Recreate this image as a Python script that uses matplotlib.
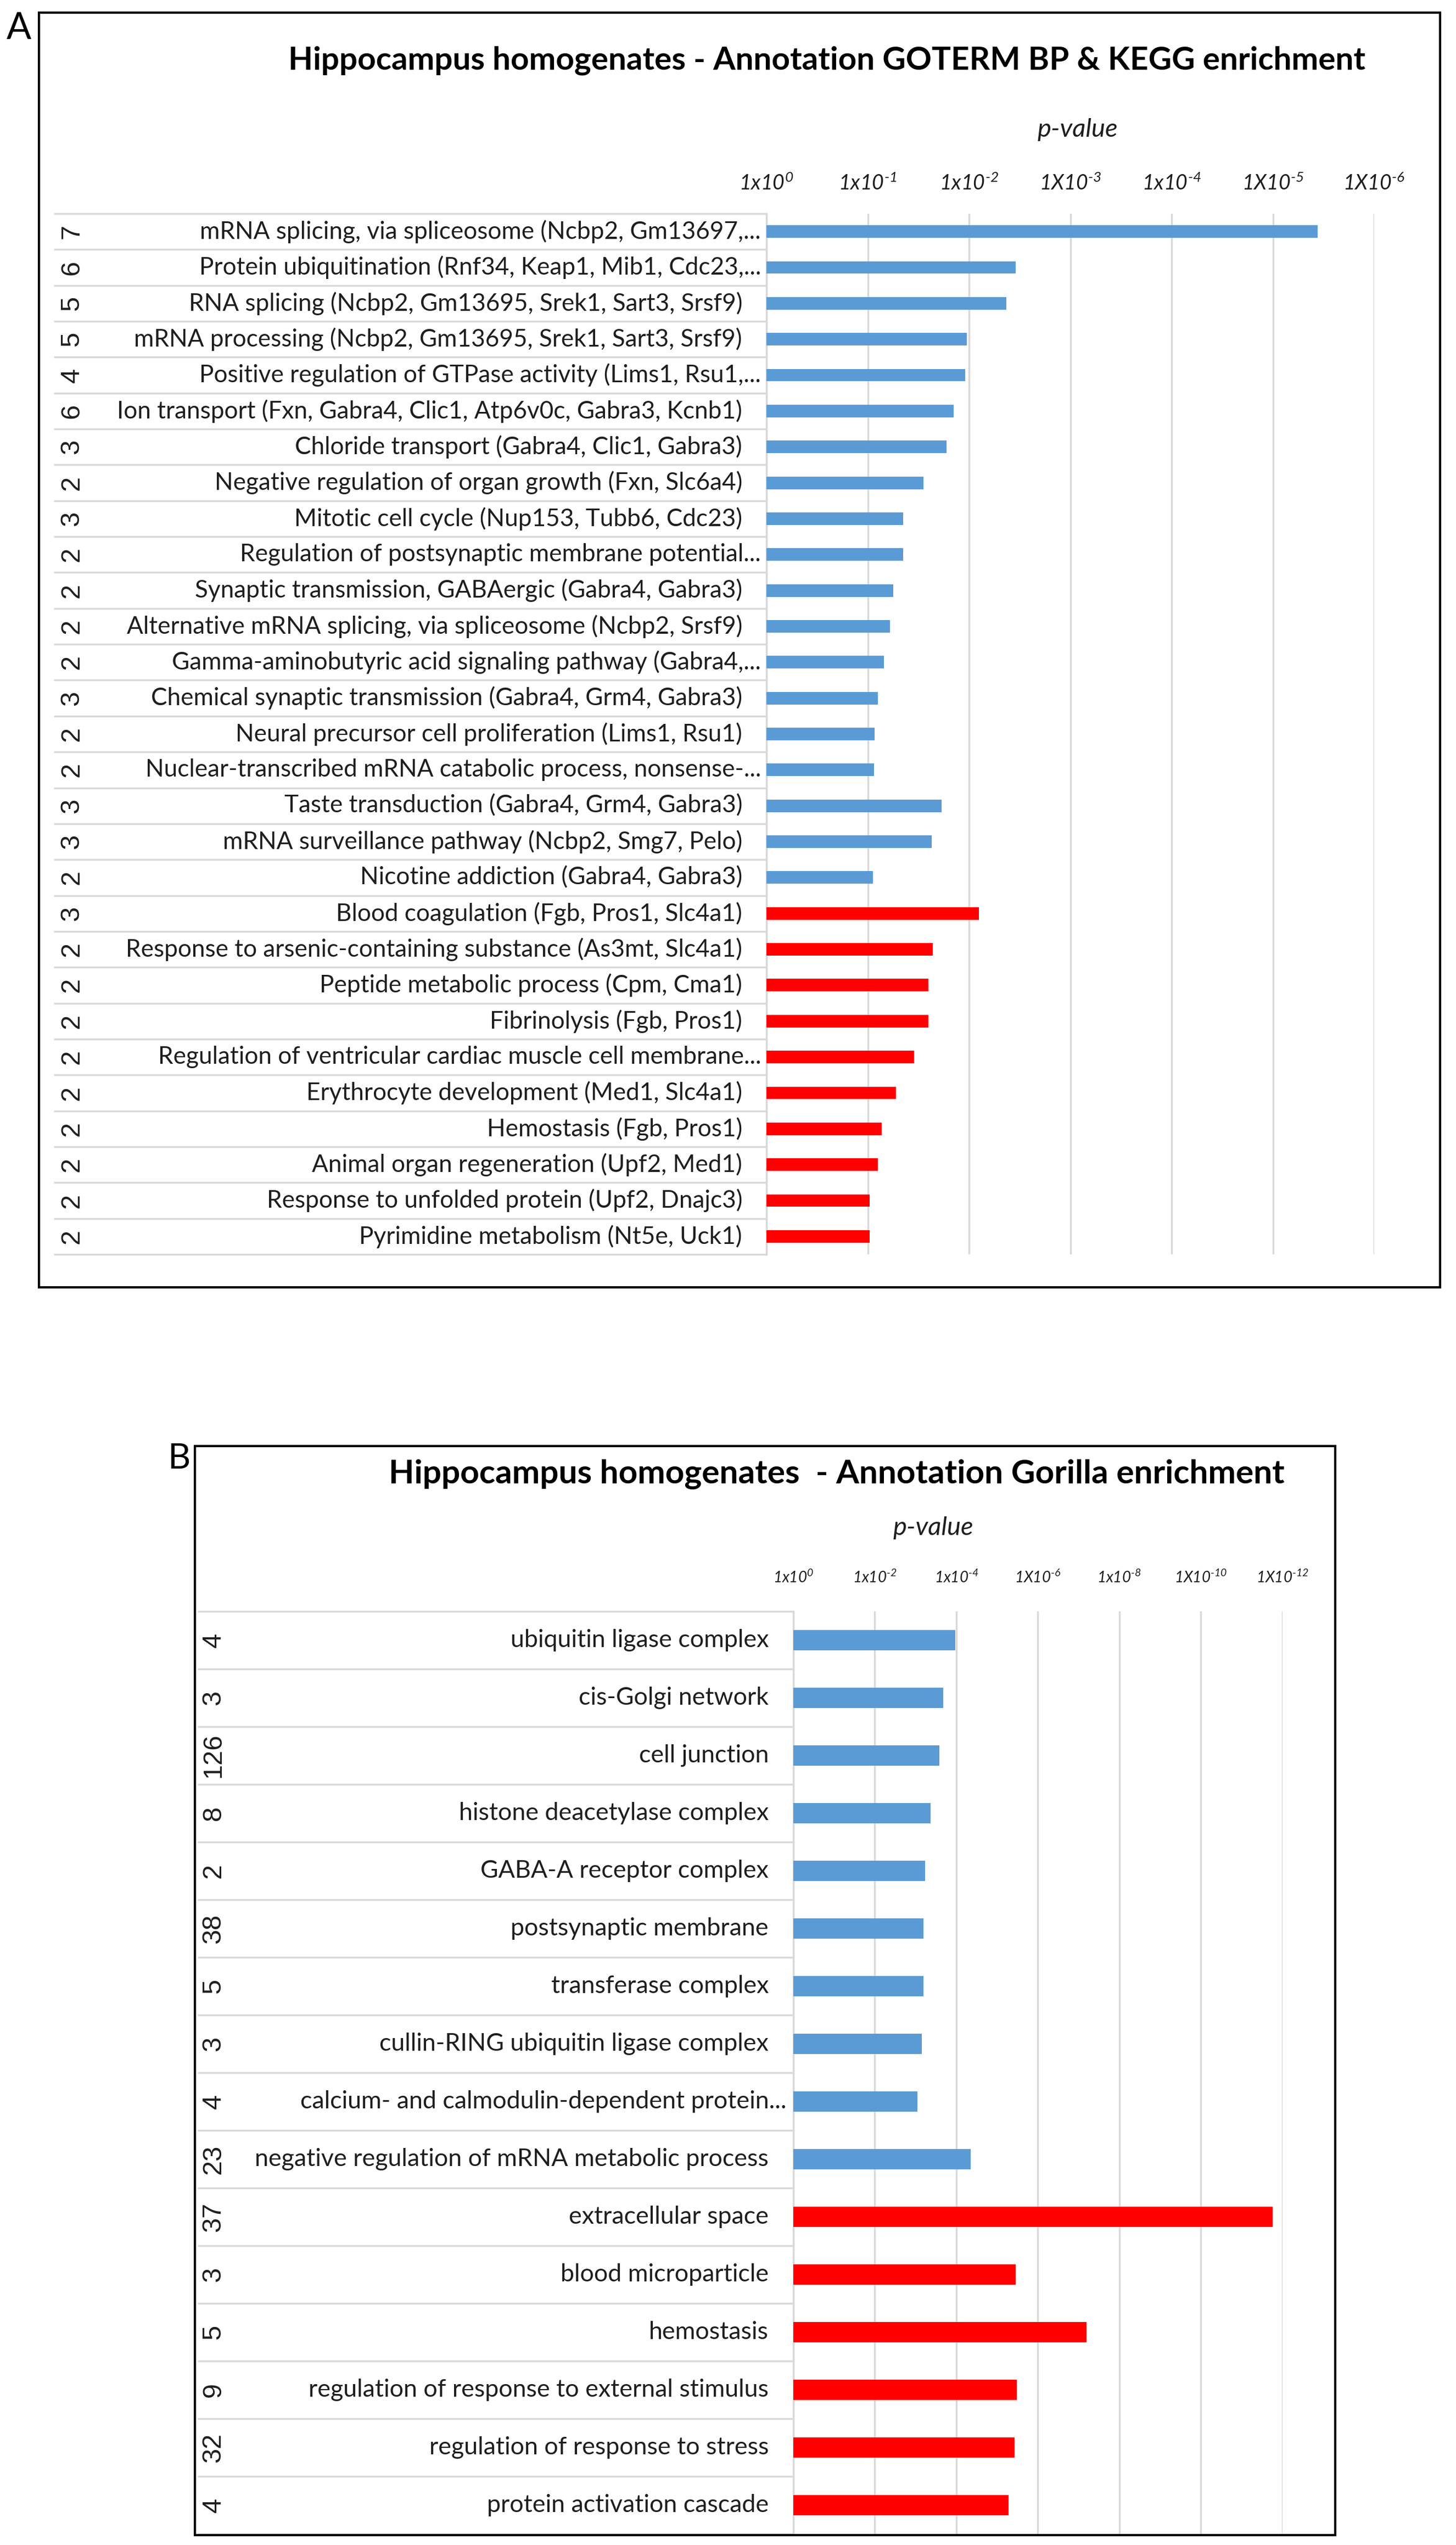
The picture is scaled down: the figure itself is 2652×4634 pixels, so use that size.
import numpy as np
import matplotlib
matplotlib.use('Agg')
import matplotlib.pyplot as plt
from matplotlib.patches import Rectangle
from matplotlib.transforms import blended_transform_factory

plt.rcParams['font.family'] = ['Lato', 'DejaVu Sans']
plt.rcParams['font.style'] = 'normal'
plt.rcParams['mathtext.fontset'] = 'custom'
plt.rcParams['mathtext.rm'] = 'Lato:italic'
plt.rcParams['mathtext.it'] = 'Lato:italic'
plt.rcParams['mathtext.bf'] = 'Lato:bold:italic'

# ---- Panel A data: GOTERM BP & KEGG (values are -log10 p-value) ----
a_counts = [7, 6, 5, 5, 4, 6, 3, 2, 3, 2, 2, 2, 2, 3, 2, 2, 3, 3, 2,
            3, 2, 2, 2, 2, 2, 2, 2, 2, 2]
a_terms = [
    "mRNA splicing, via spliceosome (Ncbp2, Gm13697,...",
    "Protein ubiquitination (Rnf34, Keap1, Mib1, Cdc23,...",
    "RNA splicing (Ncbp2, Gm13695, Srek1, Sart3, Srsf9)",
    "mRNA processing (Ncbp2, Gm13695, Srek1, Sart3, Srsf9)",
    "Positive regulation of GTPase activity (Lims1, Rsu1,...",
    "Ion transport (Fxn, Gabra4, Clic1, Atp6v0c, Gabra3, Kcnb1)",
    "Chloride transport (Gabra4, Clic1, Gabra3)",
    "Negative regulation of organ growth (Fxn, Slc6a4)",
    "Mitotic cell cycle (Nup153, Tubb6, Cdc23)",
    "Regulation of postsynaptic membrane potential...",
    "Synaptic transmission, GABAergic (Gabra4, Gabra3)",
    "Alternative mRNA splicing, via spliceosome (Ncbp2, Srsf9)",
    "Gamma-aminobutyric acid signaling pathway (Gabra4,...",
    "Chemical synaptic transmission (Gabra4, Grm4, Gabra3)",
    "Neural precursor cell proliferation (Lims1, Rsu1)",
    "Nuclear-transcribed mRNA catabolic process, nonsense-...",
    "Taste transduction (Gabra4, Grm4, Gabra3)",
    "mRNA surveillance pathway (Ncbp2, Smg7, Pelo)",
    "Nicotine addiction (Gabra4, Gabra3)",
    "Blood coagulation (Fgb, Pros1, Slc4a1)",
    "Response to arsenic-containing substance (As3mt, Slc4a1)",
    "Peptide metabolic process (Cpm, Cma1)",
    "Fibrinolysis (Fgb, Pros1)",
    "Regulation of ventricular cardiac muscle cell membrane...",
    "Erythrocyte development (Med1, Slc4a1)",
    "Hemostasis (Fgb, Pros1)",
    "Animal organ regeneration (Upf2, Med1)",
    "Response to unfolded protein (Upf2, Dnajc3)",
    "Pyrimidine metabolism (Nt5e, Uck1)",
]
a_neglogp = [5.44, 2.46, 2.37, 1.98, 1.96, 1.85, 1.78, 1.55, 1.35, 1.35,
             1.25, 1.22, 1.16, 1.10, 1.07, 1.06, 1.73, 1.63, 1.05,
             2.10, 1.64, 1.60, 1.60, 1.46, 1.28, 1.14, 1.10, 1.02, 1.02]
a_group = ['up'] * 19 + ['down'] * 10
a_ticklabels = [r'$1x10^{0}$', r'$1x10^{\text{-}1}$', r'$1x10^{\text{-}2}$',
                r'$1X10^{\text{-}3}$', r'$1x10^{\text{-}4}$', r'$1X10^{\text{-}5}$',
                r'$1X10^{\text{-}6}$']

# ---- Panel B data: Gorilla ----
b_counts = [4, 3, 126, 8, 2, 38, 5, 3, 4, 23, 37, 3, 5, 9, 32, 4]
b_terms = [
    "ubiquitin ligase complex",
    "cis-Golgi network",
    "cell junction",
    "histone deacetylase complex",
    "GABA-A receptor complex",
    "postsynaptic membrane",
    "transferase complex",
    "cullin-RING ubiquitin ligase complex",
    "calcium- and calmodulin-dependent protein...",
    "negative regulation of mRNA metabolic process",
    "extracellular space",
    "blood microparticle",
    "hemostasis",
    "regulation of response to external stimulus",
    "regulation of response to stress",
    "protein activation cascade",
]
b_neglogp = [3.97, 3.68, 3.58, 3.37, 3.23, 3.19, 3.19, 3.16, 3.05, 4.35,
             11.77, 5.46, 7.20, 5.49, 5.43, 5.28]
b_group = ['up'] * 10 + ['down'] * 6
b_ticklabels = [r'$1x10^{0}$', r'$1x10^{\text{-}2}$', r'$1x10^{\text{-}4}$',
                r'$1X10^{\text{-}6}$', r'$1x10^{\text{-}8}$', r'$1X10^{\text{-}10}$',
                r'$1X10^{\text{-}12}$']

colors = {'up': '#5B9BD5', 'down': '#FF0000'}
W, H = 2652, 4634
GRID = '#D9D9D9'
TXT = '#1e1e1e'

fig = plt.figure(figsize=(W / 100, H / 100), dpi=100)


def fx(px):
    return px / W


def fy(py):
    return 1 - py / H


def panel(box, xmax, tickstep, counts, terms, vals, groups, ticklabels,
          line_x0, num_x, txt_r, trunc_r, label_fs, tick_fs, tick_pad):
    x0, y0, x1, y1 = box
    ax = fig.add_axes([fx(x0), fy(y1), (x1 - x0) / W, (y1 - y0) / H])
    n = len(terms)
    ypos = np.arange(n)
    ax.barh(ypos, vals, height=0.35, color=[colors[g] for g in groups], zorder=3)
    ax.set_ylim(n - 0.5, -0.5)
    ax.set_xlim(0, xmax)
    ax.set_xticks(np.arange(0, xmax + 0.1, tickstep))
    ax.set_xticklabels(ticklabels, fontsize=tick_fs, color=TXT)
    ax.xaxis.tick_top()
    ax.tick_params(axis='x', length=0, pad=tick_pad)
    ax.set_yticks([])
    ax.grid(axis='x', color=GRID, lw=2.5)
    ax.set_axisbelow(True)
    for s in ['top', 'right', 'bottom']:
        ax.spines[s].set_visible(False)
    ax.spines['left'].set_color(GRID)
    ax.spines['left'].set_linewidth(2.5)

    def frac(px):
        return (px - x0) / (x1 - x0)

    tr = blended_transform_factory(ax.transAxes, ax.transData)
    for k in range(n + 1):
        ax.plot([frac(line_x0), 0], [k - 0.5, k - 0.5], transform=tr,
                color=GRID, lw=2.5, clip_on=False, solid_capstyle='butt')
    for i in range(n):
        r = trunc_r if terms[i].endswith('...') else txt_r
        ax.text(frac(r), i, terms[i], transform=tr, ha='right', va='center',
                fontsize=label_fs, color=TXT)
        ax.text(frac(num_x), i, str(counts[i]), transform=tr, ha='center',
                va='center', rotation=90, fontsize=35, color=TXT,
                family=['Liberation Sans', 'DejaVu Sans'])
    return ax


# ---- Panel A ----
fig.add_artist(Rectangle((fx(71), fy(2344)), (2623 - 71) / W, (2344 - 23) / H,
                         transform=fig.transFigure, fill=False, ec='black', lw=3))
fig.text(fx(34), fy(52), 'A', fontsize=48, ha='center', va='center', color='black')
fig.text(fx(1506), fy(110), 'Hippocampus homogenates - Annotation GOTERM BP & KEGG enrichment',
         fontsize=42, fontweight='bold', ha='center', va='center', color='black')
fig.text(fx(1963), fy(236), 'p-value', fontsize=34, style='italic',
         ha='center', va='center', color=TXT)
panel((1396, 389, 2503, 2284), 6, 1, a_counts, a_terms, a_neglogp, a_group,
      a_ticklabels, 98, 131, 1352, 1386, 31.8, 27, 26)

# ---- Panel B ----
fig.add_artist(Rectangle((fx(355), fy(4616)), (2432 - 355) / W, (4616 - 2633) / H,
                         transform=fig.transFigure, fill=False, ec='black', lw=3))
fig.text(fx(326), fy(2656), 'B', fontsize=46, ha='center', va='center', color='black')
fig.text(fx(1524), fy(2684), 'Hippocampus homogenates  - Annotation Gorilla enrichment',
         fontsize=43.5, fontweight='bold', ha='center', va='center', color='black')
fig.text(fx(1700), fy(2782), 'p-value', fontsize=34, style='italic',
         ha='center', va='center', color=TXT)
panel((1445, 2934, 2335.5, 4614), 12, 2, b_counts, b_terms, b_neglogp, b_group,
      b_ticklabels, 360, 389, 1400, 1433, 32.2, 20, 34)

fig.savefig('out.png', dpi=100, facecolor='white')
